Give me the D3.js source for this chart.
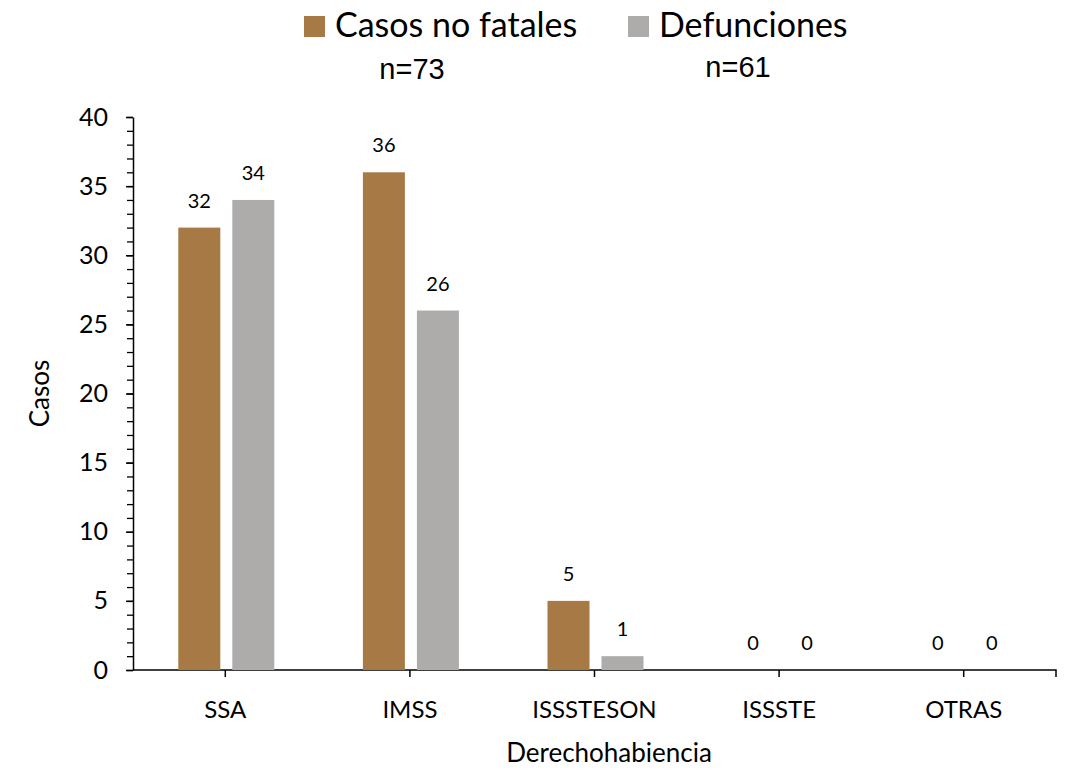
<!DOCTYPE html>
<html>
<head>
<meta charset="utf-8">
<script src="https://cdn.jsdelivr.net/npm/d3@7"></script>
<style>
  body { margin: 0; background: #fff; }
  text { font-family: Lato, "Open Sans", sans-serif; fill: #000; }
</style>
</head>
<body>
<svg id="chart" width="1066" height="772"></svg>
<script>
// data
const categories = ["SSA", "IMSS", "ISSSTESON", "ISSSTE", "OTRAS"];
const seriesNames = ["Casos no fatales", "Defunciones"];
const noFatales = [32, 36, 5, 0, 0];
const defunciones = [34, 26, 1, 0, 0];
const totals = ["n=73", "n=61"];
const yTicks = [0, 5, 10, 15, 20, 25, 30, 35, 40];
const colors = ["#A77A45", "#AEABAB"];

const plotLeft = 133, plotRight = 1056, plotTop = 117, plotBottom = 670;
const svg = d3.select("#chart");

const x = d3.scaleBand().domain(categories).range([plotLeft, plotRight]);
const y = d3.scaleLinear().domain([0, 40]).range([plotBottom, plotTop]);

// y axis minor ticks
svg.append("g")
  .attr("transform", `translate(${plotLeft},0)`)
  .call(d3.axisLeft(y).tickValues(d3.range(0, 41, 1)).tickSize(6).tickFormat(""))
  .call(g => g.select(".domain").remove())
  .selectAll("line").attr("stroke", "#000").attr("stroke-width", 1.3);

// y axis
const yAxis = svg.append("g")
  .attr("transform", `translate(${plotLeft},0)`)
  .call(d3.axisLeft(y).tickValues(yTicks).tickSize(7).tickPadding(18).tickSizeOuter(0));
yAxis.select(".domain").attr("stroke", "#000").attr("stroke-width", 1.5);
yAxis.selectAll("line").attr("stroke", "#000").attr("stroke-width", 1.5);
yAxis.selectAll("text").attr("font-size", 25).style("font-family", "Lato, sans-serif");

// x axis: ticks at category centers plus one at the end
const xAxis = svg.append("g")
  .attr("transform", `translate(0,${plotBottom})`)
  .call(d3.axisBottom(x).tickSize(7).tickPadding(24).tickSizeOuter(7));
xAxis.select(".domain").attr("stroke", "#000").attr("stroke-width", 1.5)
  .attr("d", `M${plotLeft},0H${plotRight}V7`);
xAxis.selectAll("line").attr("stroke", "#000").attr("stroke-width", 1.5);
xAxis.selectAll("text").attr("font-size", 24).style("font-family", "Lato, sans-serif");

// bars
const barW = 42;
const offsets = [-47, 7];
[noFatales, defunciones].forEach((vals, s) => {
  const g = svg.append("g");
  g.selectAll("rect")
    .data(vals)
    .enter()
    .append("rect")
    .attr("x", (d, i) => x(categories[i]) + x.bandwidth() / 2 + offsets[s])
    .attr("y", d => y(d))
    .attr("width", barW)
    .attr("height", d => plotBottom - y(d))
    .attr("fill", colors[s]);

  g.selectAll("text")
    .data(vals)
    .enter()
    .append("text")
    .attr("x", (d, i) => x(categories[i]) + x.bandwidth() / 2 + offsets[s] + barW / 2)
    .attr("y", d => y(d) - 20)
    .attr("text-anchor", "middle")
    .attr("font-size", 20)
    .text(d => d);
});

/* legend */
const legendX = [304, 628];
const totalX = [412, 738];
seriesNames.forEach((name, s) => {
  svg.append("rect")
    .attr("x", legendX[s]).attr("y", 16)
    .attr("width", 21).attr("height", 21)
    .attr("fill", colors[s]);
  svg.append("text")
    .attr("x", legendX[s] + 31).attr("y", 37)
    .attr("font-size", 34)
    .text(name);
  svg.append("text")
    .attr("x", totalX[s]).attr("y", 79 - s * 2)
    .attr("text-anchor", "middle")
    .attr("font-size", 29)
    .style("font-family", "'Liberation Sans', Arial, sans-serif")
    .text(totals[s]);
});

/* axis titles */
svg.append("text")
  .attr("transform", `translate(49,${(plotTop + plotBottom) / 2}) rotate(-90)`)
  .attr("text-anchor", "middle")
  .attr("font-size", 26)
  .text("Casos");

svg.append("text")
  .attr("x", 609)
  .attr("y", 762)
  .attr("text-anchor", "middle")
  .attr("font-size", 26)
  .text("Derechohabiencia");
</script>
</body>
</html>
